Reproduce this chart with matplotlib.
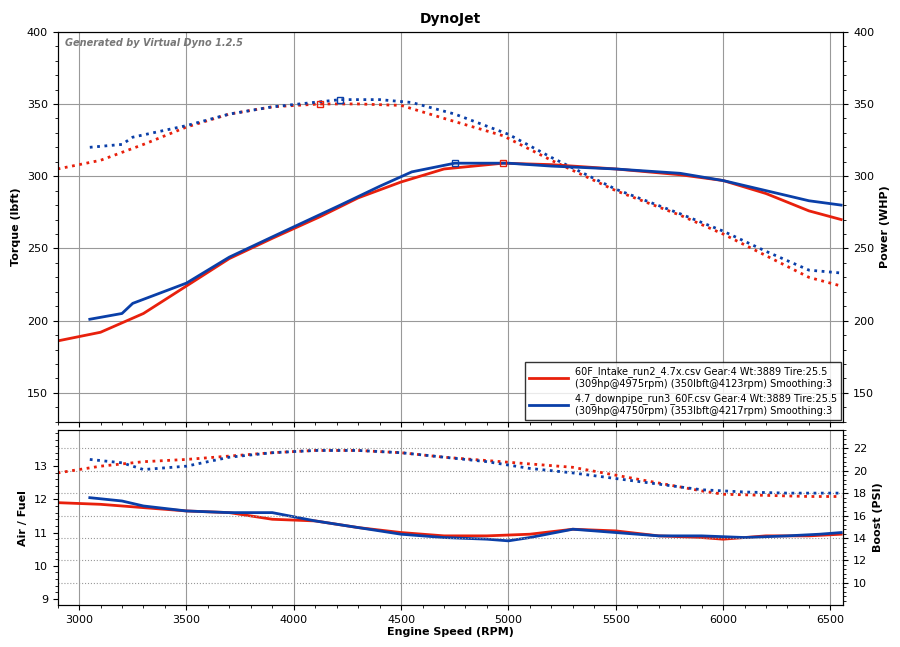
import matplotlib
matplotlib.use("Agg")
import matplotlib.pyplot as plt
from matplotlib.ticker import AutoMinorLocator

RED = "#e8200c"
BLUE = "#0a3fa8"

# torque (dotted) and power (solid), top panel
rpm_red = [2900, 3100, 3300, 3500, 3700, 3900, 4123, 4300, 4500, 4700, 4975, 5200, 5500, 5800, 6000, 6200, 6400, 6550]
tq_red = [305, 311, 322, 334, 343, 348, 350, 350, 349, 340, 328, 311, 290, 273, 260, 245, 230, 224]
hp_red = [186, 192, 205, 224, 243, 257, 272, 285, 296, 305, 309, 308, 305, 301, 297, 288, 276, 270]

rpm_blue = [3050, 3200, 3250, 3500, 3700, 3900, 4217, 4400, 4550, 4750, 5000, 5200, 5500, 5800, 6000, 6200, 6400, 6550]
tq_blue = [320, 322, 327, 335, 343, 348, 353, 353, 351, 343, 329, 313, 291, 274, 262, 248, 235, 233]
hp_blue = [201, 205, 212, 226, 244, 258, 280, 293, 303, 309, 309, 307, 305, 302, 297, 290, 283, 280]

# air/fuel (solid, left) and boost (dotted, right), bottom panel
rpm_low_red = [2900, 3100, 3300, 3500, 3700, 3900, 4100, 4300, 4500, 4700, 4900, 5100, 5300, 5500, 5700, 5900, 6000, 6200, 6400, 6550]
afr_red = [11.9, 11.85, 11.75, 11.65, 11.6, 11.4, 11.35, 11.15, 11.0, 10.9, 10.9, 10.95, 11.1, 11.05, 10.9, 10.85, 10.8, 10.9, 10.9, 10.95]
boost_red = [19.8, 20.4, 20.8, 21.0, 21.3, 21.6, 21.8, 21.8, 21.6, 21.2, 20.9, 20.6, 20.3, 19.6, 18.9, 18.2, 17.9, 17.8, 17.7, 17.7]
rpm_low_blue = [3050, 3200, 3300, 3500, 3700, 3900, 4100, 4300, 4500, 4700, 4900, 5000, 5100, 5300, 5500, 5700, 5900, 6100, 6300, 6450, 6550]
afr_blue = [12.05, 11.95, 11.8, 11.65, 11.6, 11.6, 11.35, 11.15, 10.95, 10.85, 10.8, 10.75, 10.85, 11.1, 11.0, 10.9, 10.9, 10.85, 10.9, 10.95, 11.0]
boost_blue = [21.0, 20.7, 20.1, 20.4, 21.2, 21.6, 21.8, 21.8, 21.6, 21.2, 20.8, 20.5, 20.2, 19.8, 19.3, 18.8, 18.3, 18.1, 18.0, 18.0, 18.0]

fig = plt.figure(figsize=(9, 6.47), dpi=100)
ax = fig.add_axes([0.064, 0.348, 0.873, 0.603])
ax2 = ax.twinx()
bx = fig.add_axes([0.064, 0.065, 0.873, 0.27])
bx2 = bx.twinx()

for a in (ax, bx):
    a.set_xlim(2900, 6560)
    a.grid(True, which="major", axis="x", color="#999999", lw=0.8)
    a.set_xticks(range(3000, 6501, 500))
    a.set_xticks(range(2900, 6560, 100), minor=True)
    a.tick_params(labelsize=8)
for a in (ax, ax2, bx, bx2):
    a.yaxis.set_minor_locator(AutoMinorLocator(5))

ax.plot(rpm_red, tq_red, ":", color=RED, lw=2)
ax.plot(rpm_blue, tq_blue, ":", color=BLUE, lw=2)
ax.plot(rpm_red, hp_red, "-", color=RED, lw=2, label="60F_Intake_run2_4.7x.csv Gear:4 Wt:3889 Tire:25.5\n(309hp@4975rpm) (350lbft@4123rpm) Smoothing:3")
ax.plot(rpm_blue, hp_blue, "-", color=BLUE, lw=2, label="4.7_downpipe_run3_60F.csv Gear:4 Wt:3889 Tire:25.5\n(309hp@4750rpm) (353lbft@4217rpm) Smoothing:3")
ax.plot([4123], [350], "s", mfc="none", mec=RED, ms=4)
ax.plot([4217], [353], "s", mfc="none", mec=BLUE, ms=4)
ax.plot([4975], [309], "s", mfc="none", mec=RED, ms=4)
ax.plot([4750], [309], "s", mfc="none", mec=BLUE, ms=4)
ax.set_ylim(130, 400)
ax2.set_ylim(130, 400)
ax.set_yticks(range(150, 401, 50))
ax2.set_yticks(range(150, 401, 50))
ax.grid(True, axis="y", color="#999999", lw=0.8)
ax.set_xticklabels([])
ax.set_ylabel("Torque (lbft)", fontsize=8, fontweight="bold")
ax2.set_ylabel("Power (WHP)", fontsize=8, fontweight="bold")
ax2.tick_params(labelsize=8)
ax.set_title("DynoJet", fontsize=10, fontweight="bold")
ax.text(0.01, 0.985, "Generated by Virtual Dyno 1.2.5", transform=ax.transAxes,
        fontsize=7, style="italic", fontweight="bold", color="#777777", va="top")
ax.legend(loc="lower right", fontsize=7, frameon=True, fancybox=False, edgecolor="black",
          handlelength=4, borderaxespad=0.2)

bx.plot(rpm_low_red, afr_red, "-", color=RED, lw=2)
bx.plot(rpm_low_blue, afr_blue, "-", color=BLUE, lw=2)
bx2.plot(rpm_low_red, boost_red, ":", color=RED, lw=2)
bx2.plot(rpm_low_blue, boost_blue, ":", color=BLUE, lw=2)
bx.set_ylim(8.82, 14.08)
bx.set_yticks(range(9, 14))
bx2.set_ylim(8.04, 23.6)
bx2.set_yticks(range(10, 23, 2))
bx2.grid(True, axis="y", color="#999999", lw=0.8, ls=":")
bx.set_ylabel("Air / Fuel", fontsize=8, fontweight="bold")
bx2.set_ylabel("Boost (PSI)", fontsize=8, fontweight="bold")
bx2.tick_params(labelsize=8)
bx.set_xlabel("Engine Speed (RPM)", fontsize=8, fontweight="bold", labelpad=2)

fig.savefig("out.png", dpi=100)
